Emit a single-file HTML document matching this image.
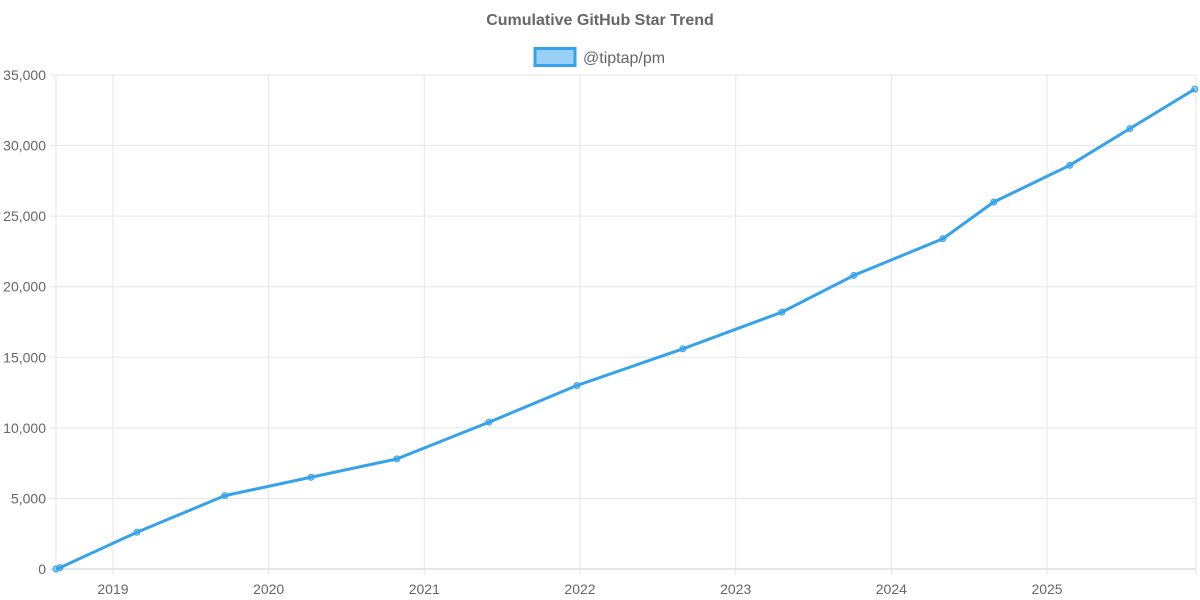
<!DOCTYPE html>
<html><head><meta charset="utf-8"><style>
html,body{margin:0;padding:0;background:#fff;width:1200px;height:600px;overflow:hidden}
svg text{font-family:"Liberation Sans",Arial,sans-serif;fill:#666}
</style></head><body>
<svg id="chart" width="1200" height="600" xmlns="http://www.w3.org/2000/svg">
<text x="600" y="25" text-anchor="middle" font-size="16" font-weight="bold">Cumulative GitHub Star Trend</text>
<g>
<rect x="535" y="48.5" width="40" height="17" fill="rgba(54,162,235,0.5)" stroke="#36A2EB" stroke-width="3"/>
<text x="583" y="63" font-size="16">@tiptap/pm</text>
</g>
<g id="grid"></g><g id="axes"></g><g id="series"></g>
</svg>
<script>
const dates = [2018.634, 2018.66, 2019.154, 2019.719, 2020.272, 2020.824, 2021.415, 2021.98, 2022.661, 2023.297, 2023.759, 2024.331, 2024.658, 2025.146, 2025.532, 2025.949];
const stars = [0, 100, 2600, 5200, 6500, 7800, 10400, 13000, 15600, 18200, 20800, 23400, 26000, 28600, 31200, 34000];
const yTicks = [0, 5000, 10000, 15000, 20000, 25000, 30000, 35000];
const xTicks = [2019, 2020, 2021, 2022, 2023, 2024, 2025];
const L=56,R=1196,T=75,B=569;
const x0=2018.634,x1=2025.957;
const X=v=>L+(v-x0)/(x1-x0)*(R-L);
const Y=v=>B-v/35000*(B-T);
const NS="http://www.w3.org/2000/svg";
function mk(tag,attrs,parent,txt){const e=document.createElementNS(NS,tag);for(const k in attrs)e.setAttribute(k,attrs[k]);if(txt!==undefined)e.textContent=txt;document.getElementById(parent).appendChild(e);return e;}
yTicks.forEach(v=>{
  const g=mk('line',{x1:L-6,x2:R,y1:Y(v),y2:Y(v),stroke:v===0?'#ccc':'#e5e5e5','stroke-width':1},'grid');
  
  
  const t=mk('text',{x:L-10,y:Y(v)+5,'text-anchor':'end','font-size':14},'axes',v.toLocaleString('en-US'));
  
  
});
[L,...xTicks.map(X),R].forEach((xx,i)=>{
  const g=mk('line',{x1:xx,x2:xx,y1:T,y2:B+6,stroke:'#e5e5e5','stroke-width':1},'grid');
  
  
});
xTicks.forEach(v=>{
  const t=mk('text',{x:X(v),y:594,'text-anchor':'middle','font-size':14},'axes',String(v));
  
  
});
const p=mk('polyline',{points:dates.map((d,i)=>X(d)+','+Y(stars[i])).join(' '),fill:'none',stroke:'#36A2EB','stroke-width':3,'stroke-linejoin':'round'},'series');


dates.forEach((d,i)=>{
  const c=mk('circle',{cx:X(d),cy:Y(stars[i]),r:3,fill:'rgba(54,162,235,0.5)',stroke:'#36A2EB','stroke-width':1},'series');
  
  
});
</script>
</body></html>
